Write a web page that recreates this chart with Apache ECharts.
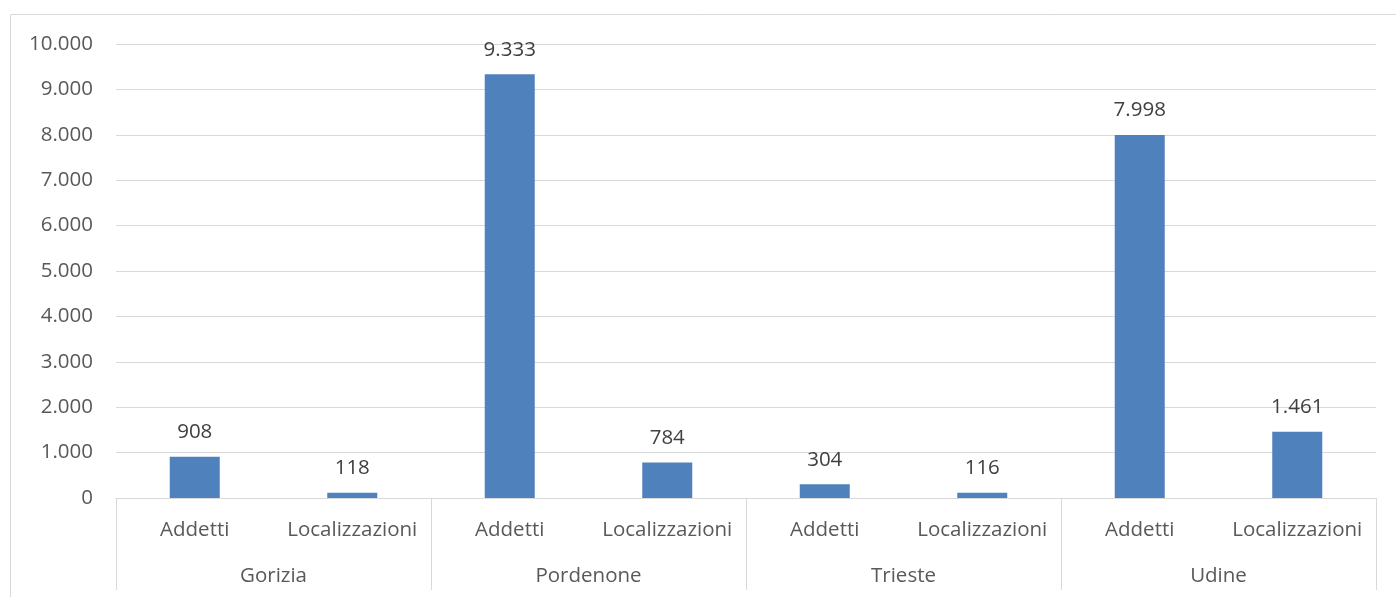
<!DOCTYPE html>
<html>
<head>
<meta charset="utf-8">
<script src="https://cdn.jsdelivr.net/npm/echarts@6/dist/echarts.min.js"></script>
<style>
  html, body { margin: 0; padding: 0; background: #fff; }
  #main { width: 1396px; height: 597px; }
</style>
</head>
<body>
<div id="main"></div>
<script>
var subCategories = ['Addetti', 'Localizzazioni', 'Addetti', 'Localizzazioni', 'Addetti', 'Localizzazioni', 'Addetti', 'Localizzazioni'];
var regions = ['Gorizia', 'Pordenone', 'Trieste', 'Udine'];
var values = [908, 118, 9333, 784, 304, 116, 7998, 1461];

// numeri col punto come separatore delle migliaia
function fmt(v){
    return String(v).replace(/\B(?=(\d{3})+(?!\d))/g, '.');
}

var myChart = echarts.init(document.getElementById('main'));
var font = 'Open Sans';
var option = {
    animation: false,
    textStyle: { fontFamily: font },
    graphic: [{
        type: 'rect',
        shape: { x: 10.5, y: 14.5, width: 1500, height: 700 },
        style: { fill: 'none', stroke: '#d9d9d9', lineWidth: 1 },
        silent: true
    }],
    grid: { left: 116, right: 20, top: 44, bottom: 99 },
    xAxis: [{
        type: 'category',
        data: subCategories,
        axisLine: { lineStyle: { color: '#d9d9d9', width: 1 } },
        axisTick: { show: false },
        axisLabel: { color: '#595959', fontSize: 20.5, margin: 22, interval: 0 }
    }, {
        type: 'category',
        data: regions,
        position: 'bottom',
        axisLine: { show: false },
        axisTick: { show: true, length: 92, lineStyle: { color: '#d9d9d9' } },
        axisLabel: { color: '#595959', fontSize: 20.5, margin: 68, interval: 0 }
    }],
    yAxis: {
        type: 'value',
        min: 0,
        max: 10000,
        interval: 1000,
        axisLine: { show: false },
        axisTick: { show: false },
        splitLine: { lineStyle: { color: '#d9d9d9', width: 1 } },
        axisLabel: {
            color: '#595959', fontSize: 20.5, margin: 23,
            formatter: function(v){ return fmt(v); }
        }
    },
    series: [{
        type: 'bar',
        xAxisIndex: 0,
        data: values,
        barWidth: 50,
        itemStyle: { color: '#4f81bd' },
        label: {
            show: true,
            position: 'top',
            distance: 14,
            color: '#404040',
            fontSize: 20.5,
            formatter: function(p){ return fmt(p.value); }
        }
    }]
};
myChart.setOption(option);
</script>
</body>
</html>
